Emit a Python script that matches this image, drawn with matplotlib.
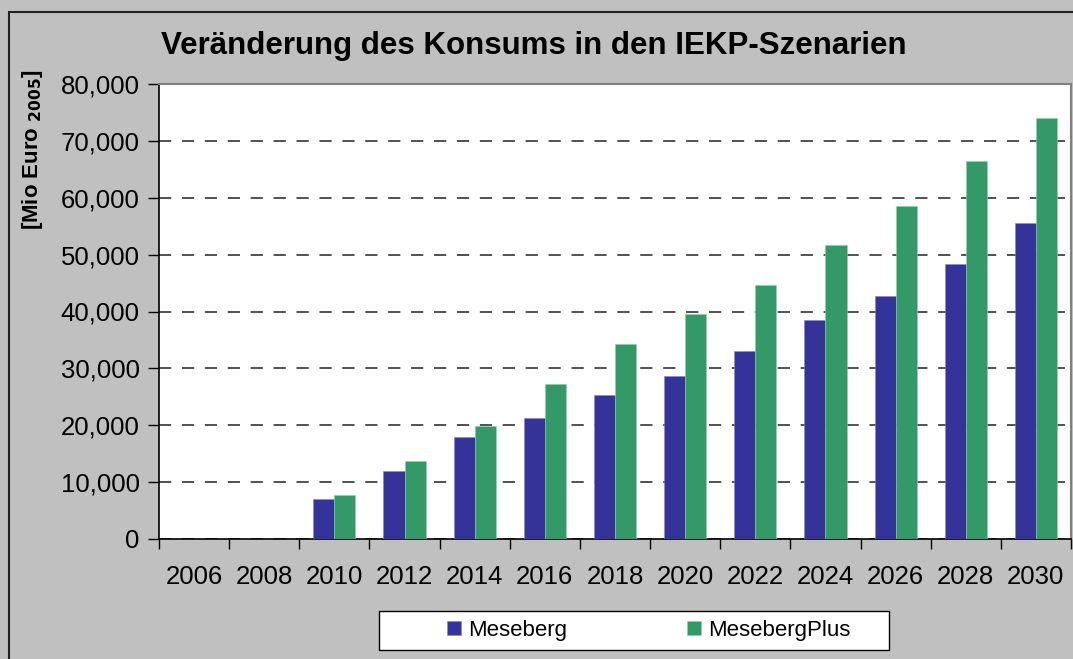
import matplotlib.pyplot as plt
import numpy as np
from matplotlib.patches import Rectangle
from matplotlib.ticker import FuncFormatter

plt.rcParams['font.family'] = ['Liberation Sans', 'DejaVu Sans']

years = ['2006', '2008', '2010', '2012', '2014', '2016', '2018',
         '2020', '2022', '2024', '2026', '2028', '2030']
meseberg = [0, 0, 7000, 12000, 18000, 21300, 25300,
            28700, 33100, 38500, 42700, 48300, 55500]
meseberg_plus = [0, 0, 7800, 13700, 19800, 27200, 34200,
                 39600, 44700, 51700, 58600, 66500, 74000]

bg = '#c0c0c0'
fig = plt.figure(figsize=(10.73, 6.59), dpi=100, facecolor=bg)

# outer chart border (only left/top visible in the crop)
fig.patches.append(Rectangle((9 / 1073, -0.1), 1.2, (659 - 12) / 659 + 0.1,
                             transform=fig.transFigure, facecolor='none',
                             edgecolor='#222222', linewidth=1.5))

ax = fig.add_axes([159 / 1073, 120 / 659, (1071 - 159) / 1073, (539 - 84) / 659])
ax.set_facecolor('white')

x = np.arange(len(years))
w = 0.3
ax.bar(x - w / 2, meseberg, w, color='#333399', edgecolor='#8888bb',
       linewidth=0.4, label='Meseberg', zorder=3)
ax.bar(x + w / 2, meseberg_plus, w, color='#339966', edgecolor='#99ccaa',
       linewidth=0.4, label='MesebergPlus', zorder=3)

ax.set_xlim(-0.5, len(years) - 0.5)
ax.set_ylim(0, 80000)
ax.set_yticks(range(0, 80001, 10000))
ax.yaxis.set_major_formatter(FuncFormatter(lambda v, p: f'{int(v):,}'))
ax.yaxis.grid(True, linestyle=(0, (8, 7)), color='#222222', linewidth=1.1, zorder=0)

ax.set_xticks(x)
ax.set_xticklabels(years)
ax.set_xticks(np.arange(-0.5, len(years)), minor=True)
ax.tick_params(axis='x', which='major', length=0, pad=19, labelsize=18.5)
ax.tick_params(axis='x', which='minor', length=7, width=1, direction='out')
ax.tick_params(axis='y', length=8, width=1, direction='out', pad=6, labelsize=18.5)

for s in ['left', 'bottom']:
    ax.spines[s].set_color('black')
    ax.spines[s].set_linewidth(1.2)
for s in ['top', 'right']:
    ax.spines[s].set_color('#808080')
    ax.spines[s].set_linewidth(1.5)

fig.text(534 / 1073, 1 - 46 / 659, 'Veränderung des Konsums in den IEKP-Szenarien',
         ha='center', va='center', fontsize=22.5, fontweight='bold')
fig.text(33 / 1073, 1 - 149 / 659, r'[Mio Euro $_{\mathbf{2005}}$]', rotation=90,
         ha='center', va='center', fontsize=16, fontweight='bold')

# legend box
fig.patches.append(Rectangle((379 / 1073, 1 - 650 / 659), 510 / 1073, 39 / 659,
                             transform=fig.transFigure, facecolor='white',
                             edgecolor='black', linewidth=1))
fig.legend(loc='center', bbox_to_anchor=(649 / 1073, 1 - 630.5 / 659), ncol=2,
           frameon=False, fontsize=16, handlelength=0.6, handleheight=0.6,
           handletextpad=0.35, columnspacing=5.4)

fig.savefig('out.png', dpi=100, facecolor=bg)
